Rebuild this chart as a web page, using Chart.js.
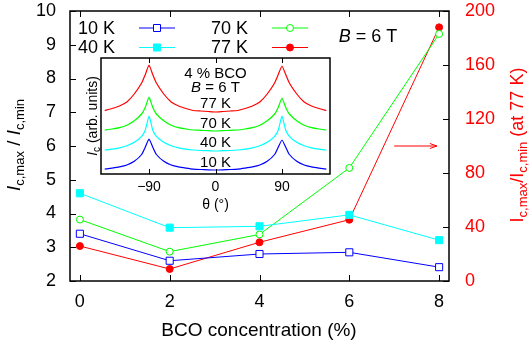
<!DOCTYPE html>
<html>
<head>
<meta charset="utf-8">
<script src="https://cdn.jsdelivr.net/npm/chart.js@4.4.1/dist/chart.umd.min.js"></script>
<style>
  html, body { margin: 0; padding: 0; background: #fff; }
  #wrap { position: relative; width: 530px; height: 347px; }
  #main { position: absolute; left: 0; top: 0; }
  #inset { position: absolute; left: 80px; top: 50px; }
</style>
</head>
<body>
<div id="wrap">
  <canvas id="main" width="530" height="347"></canvas>
  <canvas id="inset" width="260" height="170"></canvas>
</div>
<script>
// main panel: Ic,max / Ic,min vs BCO concentration
const concentration = [0, 2, 4, 6, 8];
const ratio10K = [3.40, 2.60, 2.80, 2.85, 2.41];
const ratio40K = [4.60, 3.58, 3.62, 3.96, 3.21];
const ratio70K = [3.82, 2.87, 3.38, 5.35, 9.32];
const ratio77K = [25.9, 8.9, 28.7, 45.4, 187.9]; // right axis
const xTicks = [0, 2, 4, 6, 8];
const leftTicks = [2, 3, 4, 5, 6, 7, 8, 9, 10];
const rightTicks = [0, 40, 80, 120, 160, 200];

// inset: Ic(theta), arb. units, curves offset
const theta = [-150, -140, -130, -120, -110, -100, -95, -90, -85, -80, -70, -60, -50, -40, -30, -20, -10, 0,
  10, 20, 30, 40, 50, 60, 70, 80, 85, 90, 95, 100, 110, 120, 130, 140, 150];
const ic77K = [63.5, 65.5, 68, 72, 80, 91, 99.5, 109, 99.5, 91, 80, 72, 68, 65.5, 63.5, 63, 62.5, 62,
  62.5, 63, 63.5, 65.5, 68, 72, 80, 91, 99.5, 108, 99.5, 91, 80, 72, 68, 65.5, 63.5];
const ic70K = [44, 45, 46.4, 48.8, 53.2, 60, 66.8, 77, 66.8, 60, 53.2, 48.8, 46.4, 45, 44, 43.7, 43.3, 43,
  43.3, 43.7, 44, 45, 46.4, 48.8, 53.2, 60, 66.8, 76, 66.8, 60, 53.2, 48.8, 46.4, 45, 44];
const ic40K = [24, 24.8, 26.2, 28.3, 31.7, 37.7, 44, 58, 44, 37.7, 31.7, 28.3, 26.2, 24.8, 24, 23.5, 23.3, 23,
  23.3, 23.5, 24, 24.8, 26.2, 28.3, 31.7, 37.7, 44, 58, 44, 37.7, 31.7, 28.3, 26.2, 24.8, 24];
const ic10K = [4.9, 5.9, 7.1, 9, 12.7, 19.5, 27, 35, 27, 19.5, 12.7, 9, 7.1, 5.9, 4.9, 4.5, 4.2, 4,
  4.2, 4.5, 4.9, 5.9, 7.1, 9, 12.7, 19.5, 27, 34, 27, 19.5, 12.7, 9, 7.1, 5.9, 4.9];
const insetTicks = [-90, 0, 90];

const FONT = "'Liberation Sans', Arial, sans-serif";
const COLORS = { k10: '#0000ff', k40: '#00ffff', k70: '#00ff00', k77: '#ff0000' };

function pts(xs, ys) {
  return xs.map((x, i) => ({ x, y: ys[i] }));
}

// fixed axis boxes, no extra padding from tick labels
function fixBox(size) {
  return s => {
    if (s.isHorizontal()) s.height = size; else s.width = size;
    s.paddingTop = 0; s.paddingBottom = 0; s.paddingLeft = 0; s.paddingRight = 0;
  };
}

function drawRich(ctx, parts, x, y, angle, color) {
  ctx.save();
  ctx.translate(x, y);
  ctx.rotate(angle);
  ctx.fillStyle = color;
  ctx.textBaseline = 'alphabetic';
  ctx.textAlign = 'left';
  const f = p => (p.italic ? 'italic ' : '') + p.size + 'px ' + FONT;
  let w = 0;
  parts.forEach(p => { ctx.font = f(p); w += ctx.measureText(p.t).width; });
  let cx = -w / 2;
  parts.forEach(p => {
    ctx.font = f(p);
    ctx.fillText(p.t, cx, p.dy || 0);
    cx += ctx.measureText(p.t).width;
  });
  ctx.restore();
}

function marker(ctx, style, filled, color, x, y) {
  ctx.save();
  ctx.strokeStyle = color;
  ctx.fillStyle = filled ? color : '#fff';
  ctx.lineWidth = 1;
  ctx.beginPath();
  if (style === 'rect') ctx.rect(x - 3.5, y - 3.5, 7, 7);
  else ctx.arc(x, y, 3.5, 0, Math.PI * 2);
  ctx.fill();
  ctx.stroke();
  ctx.restore();
}

const mainFrame = {
  id: 'mainFrame',
  afterDraw(chart) {
    const { ctx, chartArea: a, scales } = chart;
    ctx.save();
    ctx.strokeStyle = '#000';
    ctx.lineWidth = 1.5;
    ctx.strokeRect(a.left, a.top, a.right - a.left, a.bottom - a.top);
    ctx.lineWidth = 1;
    ctx.beginPath();
    xTicks.forEach(v => {
      const px = Math.round(scales.x.getPixelForValue(v)) + 0.5;
      ctx.moveTo(px, a.bottom); ctx.lineTo(px, a.bottom - 6);
      ctx.moveTo(px, a.top); ctx.lineTo(px, a.top + 6);
    });
    leftTicks.forEach(v => {
      const py = Math.round(scales.y.getPixelForValue(v)) + 0.5;
      ctx.moveTo(a.left, py); ctx.lineTo(a.left + 6, py);
    });
    rightTicks.forEach(v => {
      const py = Math.round(scales.y1.getPixelForValue(v)) + 0.5;
      ctx.moveTo(a.right, py); ctx.lineTo(a.right - 6, py);
    });
    ctx.stroke();

    // legend, two columns, text then sample
    const legendRows = [
      [0, 115, 28], [2, 248, 28],
      [1, 115, 47.5], [3, 248, 47.5]
    ];
    ctx.font = '18px ' + FONT;
    ctx.textBaseline = 'middle';
    ctx.textAlign = 'right';
    legendRows.forEach(([i, tx, ty]) => {
      const ds = chart.data.datasets[i];
      ctx.fillStyle = '#000';
      ctx.fillText(ds.label, tx, ty + 1);
      ctx.strokeStyle = ds.borderColor;
      ctx.lineWidth = 1;
      ctx.beginPath();
      ctx.moveTo(tx + 24, ty); ctx.lineTo(tx + 60, ty);
      ctx.stroke();
      marker(ctx, ds.pointStyle, ds.pointBackgroundColor !== '#fff', ds.borderColor, tx + 42, ty);
    });

    drawRich(ctx, [{ t: 'B', size: 18, italic: true }, { t: ' = 6 T', size: 18 }], 368, 42, 0, '#000');

    // arrow pointing at the right axis
    const ay = scales.y1.getPixelForValue(100);
    const ax0 = scales.x.getPixelForValue(7.0);
    const ax1 = scales.x.getPixelForValue(7.95);
    ctx.strokeStyle = COLORS.k77;
    ctx.lineWidth = 1;
    ctx.beginPath();
    ctx.moveTo(ax0, ay); ctx.lineTo(ax1, ay);
    ctx.moveTo(ax1 - 7, ay - 2.5); ctx.lineTo(ax1, ay); ctx.lineTo(ax1 - 7, ay + 2.5);
    ctx.stroke();

    // axis titles
    drawRich(ctx, [
      { t: 'I', size: 19, italic: true }, { t: 'c,max', size: 13, dy: 4 },
      { t: ' / ', size: 19 },
      { t: 'I', size: 19, italic: true }, { t: 'c,min', size: 13, dy: 4 }
    ], 20, 145, -Math.PI / 2, '#000');
    drawRich(ctx, [
      { t: 'I', size: 18 }, { t: 'c,max', size: 13, dy: 4 },
      { t: '/I', size: 18 }, { t: 'c,min', size: 13, dy: 4 },
      { t: ' (at 77 K)', size: 18 }
    ], 523, 145, -Math.PI / 2, COLORS.k77);
    drawRich(ctx, [{ t: 'BCO concentration (%)', size: 19 }], 259, 336, 0, '#000');
    ctx.restore();
  }
};

new Chart(document.getElementById('main'), {
  type: 'line',
  data: {
    datasets: [
      {
        label: '10 K', data: pts(concentration, ratio10K), yAxisID: 'y',
        borderColor: COLORS.k10, pointBackgroundColor: '#fff', pointBorderColor: COLORS.k10,
        pointStyle: 'rect', pointRadius: 5, borderWidth: 1, pointBorderWidth: 1
      },
      {
        label: '40 K', data: pts(concentration, ratio40K), yAxisID: 'y',
        borderColor: COLORS.k40, pointBackgroundColor: COLORS.k40, pointBorderColor: COLORS.k40,
        pointStyle: 'rect', pointRadius: 5, borderWidth: 1, pointBorderWidth: 1
      },
      {
        label: '70 K', data: pts(concentration, ratio70K), yAxisID: 'y',
        borderColor: COLORS.k70, pointBackgroundColor: '#fff', pointBorderColor: COLORS.k70,
        pointStyle: 'circle', pointRadius: 3.5, borderWidth: 1, pointBorderWidth: 1
      },
      {
        label: '77 K', data: pts(concentration, ratio77K), yAxisID: 'y1',
        borderColor: COLORS.k77, pointBackgroundColor: COLORS.k77, pointBorderColor: COLORS.k77,
        pointStyle: 'circle', pointRadius: 3.5, borderWidth: 1, pointBorderWidth: 1
      }
    ]
  },
  options: {
    responsive: false,
    animation: false,
    events: [],
    layout: { padding: { top: 11, left: 0, right: 0, bottom: 0 } },
    plugins: { legend: { display: false }, tooltip: { enabled: false } },
    scales: {
      x: {
        type: 'linear', min: -0.22, max: 8.22,
        afterBuildTicks: s => { s.ticks = xTicks.map(v => ({ value: v })); },
        afterFit: fixBox(66),
        grid: { display: false, drawTicks: false }, border: { display: false },
        ticks: { color: '#000', font: { family: FONT, size: 18 }, padding: 10, maxRotation: 0 }
      },
      y: {
        type: 'linear', position: 'left', min: 2, max: 10,
        afterBuildTicks: s => { s.ticks = leftTicks.map(v => ({ value: v })); },
        afterFit: fixBox(70),
        grid: { display: false, drawTicks: false }, border: { display: false },
        ticks: { color: '#000', font: { family: FONT, size: 18 }, padding: 14 }
      },
      y1: {
        type: 'linear', position: 'right', min: 0, max: 200,
        afterBuildTicks: s => { s.ticks = rightTicks.map(v => ({ value: v })); },
        afterFit: fixBox(81),
        grid: { display: false, drawTicks: false }, border: { display: false },
        ticks: { color: COLORS.k77, font: { family: FONT, size: 18 }, padding: 16 }
      }
    }
  },
  plugins: [mainFrame]
});

const insetFrame = {
  id: 'insetFrame',
  beforeDatasetsDraw(chart) {
    const { ctx, chartArea: a } = chart;
    ctx.save();
    ctx.fillStyle = '#fff';
    ctx.fillRect(a.left, a.top, a.right - a.left, a.bottom - a.top);
    ctx.restore();
  },
  afterDraw(chart) {
    const { ctx, chartArea: a, scales } = chart;
    ctx.save();
    ctx.strokeStyle = '#000';
    ctx.lineWidth = 1.5;
    ctx.strokeRect(a.left, a.top, a.right - a.left, a.bottom - a.top);
    ctx.lineWidth = 1;
    ctx.beginPath();
    insetTicks.forEach(v => {
      const px = Math.round(scales.x.getPixelForValue(v)) + 0.5;
      ctx.moveTo(px, a.bottom); ctx.lineTo(px, a.bottom - 5);
      ctx.moveTo(px, a.top); ctx.lineTo(px, a.top + 5);
    });
    ctx.stroke();

    const cx = scales.x.getPixelForValue(0);
    const labels = [['4 % BCO', 100.5], ['77 K', 70], ['70 K', 50], ['40 K', 31], ['10 K', 11]];
    ctx.fillStyle = '#000';
    ctx.font = '15px ' + FONT;
    ctx.textAlign = 'center';
    ctx.textBaseline = 'middle';
    labels.forEach(([t, v]) => ctx.fillText(t, cx, scales.y.getPixelForValue(v)));
    drawRich(ctx, [{ t: 'B', size: 15, italic: true }, { t: ' = 6 T', size: 15 }],
      cx, scales.y.getPixelForValue(88) + 5.5, 0, '#000');

    drawRich(ctx, [{ t: 'θ (°)', size: 14 }], cx, 159, 0, '#000');
    drawRich(ctx, [
      { t: 'I', size: 14, italic: true }, { t: 'c', size: 10, dy: 3 },
      { t: ' (arb. units)', size: 14 }
    ], 17, (a.top + a.bottom) / 2, -Math.PI / 2, '#000');
    ctx.restore();
  }
};

new Chart(document.getElementById('inset'), {
  type: 'line',
  data: {
    datasets: [
      { label: '77 K', data: pts(theta, ic77K), borderColor: COLORS.k77 },
      { label: '70 K', data: pts(theta, ic70K), borderColor: COLORS.k70 },
      { label: '40 K', data: pts(theta, ic40K), borderColor: COLORS.k40 },
      { label: '10 K', data: pts(theta, ic10K), borderColor: COLORS.k10 }
    ]
  },
  options: {
    responsive: false,
    animation: false,
    events: [],
    elements: { point: { radius: 0 }, line: { borderWidth: 1.2, tension: 0.15 } },
    layout: { padding: { top: 8, left: 21, right: 10, bottom: 0 } },
    plugins: { legend: { display: false }, tooltip: { enabled: false } },
    scales: {
      x: {
        type: 'linear', min: -155, max: 155,
        afterBuildTicks: s => { s.ticks = insetTicks.map(v => ({ value: v })); },
        afterFit: fixBox(46),
        grid: { display: false, drawTicks: false }, border: { display: false },
        ticks: {
          color: '#000', font: { family: FONT, size: 14 }, padding: 5, maxRotation: 0,
          callback: v => (v < 0 ? '\u2212' + Math.abs(v) : String(v))
        }
      },
      y: { type: 'linear', min: 0, max: 116, display: false }
    }
  },
  plugins: [insetFrame]
});
</script>
</body>
</html>
